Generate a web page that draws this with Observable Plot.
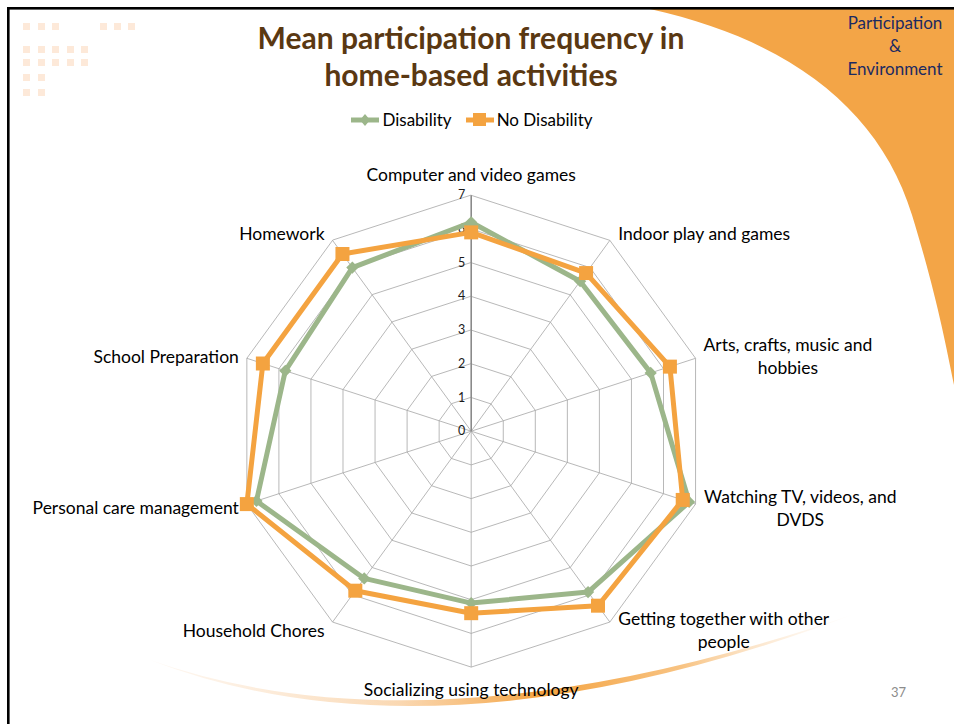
<!DOCTYPE html>
<html>
<head>
<meta charset="utf-8">
<script src="https://cdn.jsdelivr.net/npm/d3@7"></script>
<script src="https://cdn.jsdelivr.net/npm/@observablehq/plot@0.6"></script>
<style>
  html, body { margin: 0; padding: 0; background: #fff; }
  #page { position: relative; width: 954px; height: 724px; overflow: hidden; background: #fff; font-family: Lato, "Open Sans", sans-serif; }
  #bg { position: absolute; left: 0; top: 0; }
  #chart { position: absolute; left: 0; top: 0; }
  #title { position: absolute; left: 0; top: 19px; width: 942px; text-align: center; color: #5a3812; font-weight: bold; font-size: 30px; line-height: 37px; }
  #legend { position: absolute; left: 0; top: 109px; width: 944px; display: flex; justify-content: center; gap: 14px; font-size: 17px; color: #000; }
  #legend .item { display: flex; align-items: center; gap: 3px; }
  #brand { position: absolute; left: 838px; top: 11px; width: 114px; text-align: center; color: #1b2a62; font-size: 17px; line-height: 23px; }
  #pagenum { position: absolute; left: 891px; top: 684px; color: #8c8c8c; font-size: 13px; }
</style>
</head>
<body>
<div id="page">
  <svg id="bg" width="954" height="724">
    <defs>
      <linearGradient id="sw" x1="0" x2="1" y1="0" y2="0">
        <stop offset="0" stop-color="#f8d2ad" stop-opacity="0.15"/>
        <stop offset="0.35" stop-color="#f6b873" stop-opacity="0.55"/>
        <stop offset="0.55" stop-color="#f4a340" stop-opacity="1"/>
        <stop offset="0.75" stop-color="#f4a340" stop-opacity="0.65"/>
        <stop offset="1" stop-color="#fbe3cc" stop-opacity="0"/>
      </linearGradient>
    </defs>
    <path d="M650,9 C790,40 880,110 912,215 C935,290 945,340 954,385 L954,9 Z" fill="#f3a547"/>
    <path d="M150,660 Q435,760 860,612 Q440,772 150,660 Z" fill="url(#sw)"/>
    <g fill="#fde9d9" id="dots"></g>
    <rect x="7" y="7" width="947" height="2.6" fill="#000"/>
    <rect x="7" y="7" width="2.6" height="717" fill="#000"/>
  </svg>
  <div id="chart"></div>
  <div id="title">Mean participation frequency in<br>home-based activities</div>
  <div id="legend"></div>
  <div id="brand">Participation<br>&amp;<br>Environment</div>
  <div id="pagenum">37</div>
</div>
<script>
// ---- data ----
const categories = ["Computer and video games", "Indoor play and games", "Arts, crafts, music and hobbies", "Watching TV, videos, and DVDS", "Getting together with other people", "Socializing using technology", "Household Chores", "Personal care management", "School Preparation", "Homework"];
const labelText = ["Computer and video games", "Indoor play and games", "Arts, crafts, music and\nhobbies", "Watching TV, videos, and\nDVDS", "Getting together with other\npeople", "Socializing using technology", "Household Chores", "Personal care management", "School Preparation", "Homework"];
const disability   = [6.2, 5.5, 5.6, 6.8, 5.9, 5.1, 5.4, 6.7, 5.8, 6.0];
const noDisability = [5.9, 5.8, 6.2, 6.6, 6.4, 5.4, 5.85, 7.0, 6.5, 6.5];
const tickValues = [0, 1, 2, 3, 4, 5, 6, 7];
const seriesNames = ["Disability", "No Disability"];

// ---- style ----
const GREEN = "#9cb68a", ORANGE = "#f4a340";
const W = 954, H = 724, CX = 470.7, CY = 430.7, K = 33.7, RMAX = 7;
const LABEL_FONT = 17.5;

// decorative dots
const dotRows = [[23, [23, 38, 52, 100, 114, 128]], [46, [23, 38, 52, 67, 81]], [59, [23, 38, 52, 67, 81]], [74, [23, 38]], [89, [23, 38]]];
const dg = document.getElementById("dots");
for (const [y, xs] of dotRows) for (const x of xs) {
  const r = document.createElementNS("http://www.w3.org/2000/svg", "rect");
  r.setAttribute("x", x); r.setAttribute("y", y); r.setAttribute("width", 7); r.setAttribute("height", 7);
  dg.appendChild(r);
}

const n = categories.length;
const ang = i => (2 * Math.PI * i) / n;
const px = (i, r) => r * Math.sin(ang(i));
const py = (i, r) => r * Math.cos(ang(i));

// web grid
const web = [];
for (const L of tickValues.slice(1)) for (let i = 0; i < n; i++) web.push({level: L, x: px(i, L), y: py(i, L)});
const spokes = categories.map((c, i) => ({i, x: px(i, RMAX), y: py(i, RMAX)}));

// series
const rows = [];
seriesNames.forEach((s, si) => {
  const vals = si === 0 ? disability : noDisability;
  vals.forEach((v, i) => rows.push({series: s, cat: categories[i], v, x: px(i, v), y: py(i, v)}));
});

// labels (measure text to place multi-line centered blocks beside vertices)
const ctx = document.createElement("canvas").getContext("2d");
ctx.font = `${LABEL_FONT}px Lato`;
const labels = labelText.map((t, i) => {
  const s = Math.sin(ang(i)), c = Math.cos(ang(i));
  const w = Math.max(...t.split("\n").map(l => ctx.measureText(l).width));
  const side = Math.abs(s) < 0.1 ? 0 : Math.sign(s);
  const off = side === 0 ? 22 : 9;
  return {text: t, x: px(i, RMAX) + side * (8 + w / 2) / K, y: py(i, RMAX) + c * off / K};
});

const chart = Plot.plot({
  width: W, height: H, margin: 0,
  x: {type: "linear", domain: [-CX / K, (W - CX) / K], range: [0, W], axis: null},
  y: {type: "linear", domain: [-(H - CY) / K, CY / K], range: [H, 0], axis: null},
  style: {background: "transparent", overflow: "visible"},
  marks: [
    Plot.line(web, {x: "x", y: "y", z: "level", curve: "linear-closed", stroke: "#a6a6a6", strokeWidth: 0.8}),
    Plot.link(spokes.filter(d => d.i !== 0), {x1: 0, y1: 0, x2: "x", y2: "y", stroke: "#a6a6a6", strokeWidth: 0.8}),
    Plot.link(spokes.filter(d => d.i === 0), {x1: 0, y1: 0, x2: "x", y2: "y", stroke: "#8a8a8a", strokeWidth: 1.6}),
    Plot.text(tickValues, {x: 0, y: d => d, text: d => String(d), textAnchor: "end", dx: -6, dy: 0, fontSize: 12.5, fill: "#1a1a1a", fontFamily: "Lato"}),
    Plot.line(rows.filter(d => d.series === "Disability"), {x: "x", y: "y", curve: "linear-closed", stroke: GREEN, strokeWidth: 5, strokeLinejoin: "round"}),
    Plot.dot(rows.filter(d => d.series === "Disability"), {x: "x", y: "y", symbol: "diamond2", r: 5.5, fill: GREEN, stroke: "none"}),
    Plot.line(rows.filter(d => d.series === "No Disability"), {x: "x", y: "y", curve: "linear-closed", stroke: ORANGE, strokeWidth: 5, strokeLinejoin: "round"}),
    Plot.dot(rows.filter(d => d.series === "No Disability"), {x: "x", y: "y", symbol: "square", r: 7.9, fill: ORANGE, stroke: "none"}),
    Plot.text(labels, {x: "x", y: "y", text: "text", textAnchor: "middle", lineAnchor: "middle", lineHeight: 1.3, fontSize: LABEL_FONT, fill: "#000", fontFamily: "Lato"})
  ]
});
document.getElementById("chart").appendChild(chart);

// legend
const leg = document.getElementById("legend");
seriesNames.forEach((s, si) => {
  const col = si === 0 ? GREEN : ORANGE;
  const item = document.createElement("div");
  item.className = "item";
  const marker = si === 0
    ? `<polygon points="14,1 19,7 14,13 9,7" fill="${col}"/>`
    : `<rect x="7" y="0" width="13" height="13" fill="${col}"/>`;
  item.innerHTML = `<svg width="28" height="14"><line x1="0" x2="28" y1="7" y2="7" stroke="${col}" stroke-width="5"/>${marker}</svg><span>${s}</span>`;
  leg.appendChild(item);
});
</script>
</body>
</html>
